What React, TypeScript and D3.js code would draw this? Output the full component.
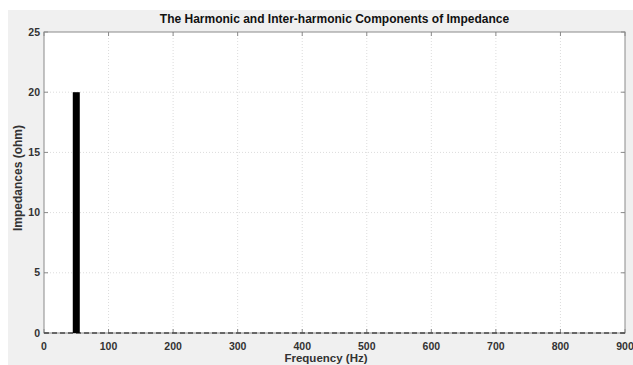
import React from "react";
import * as d3 from "d3";

// Harmonic / inter-harmonic impedance components
const frequencies = [50];
const impedances = [20];
const xTicks = [0, 100, 200, 300, 400, 500, 600, 700, 800, 900];
const yTicks = [0, 5, 10, 15, 20, 25];

const W = 633;
const H = 365;
const margin = { left: 44, right: 8, top: 32, bottom: 32 };

export default function App() {
  const x = d3.scaleLinear().domain([0, 900]).range([margin.left, W - margin.right]);
  const y = d3.scaleLinear().domain([0, 25]).range([H - margin.bottom, margin.top]);
  const x0 = x.range()[0];
  const x1 = x.range()[1];
  const y0 = y.range()[0];
  const y1 = y.range()[1];
  const font = "Arial, 'Liberation Sans', sans-serif";

  return (
    <svg
      width={W}
      height={H}
      style={{ position: "absolute", left: 0, top: 0, display: "block" }}
    >
      <rect x={0} y={0} width={W} height={H} fill="#ffffff" />
      <rect x={8} y={10} width={W - 8} height={H - 10} fill="#f0f0f0" />
      <rect x={x0} y={y1} width={x1 - x0} height={y0 - y1} fill="#ffffff" />

      {/* grid */}
      {xTicks.slice(1, -1).map((t) => (
        <line
          key={"gx" + t}
          x1={x(t)}
          x2={x(t)}
          y1={y1}
          y2={y0}
          stroke="#dcdcdc"
          strokeWidth={1}
          strokeDasharray="1 2"
        />
      ))}
      {yTicks.slice(1, -1).map((t) => (
        <line
          key={"gy" + t}
          x1={x0}
          x2={x1}
          y1={y(t)}
          y2={y(t)}
          stroke="#dcdcdc"
          strokeWidth={1}
          strokeDasharray="1 2"
        />
      ))}

      {/* axes box */}
      <rect
        x={x0}
        y={y1}
        width={x1 - x0}
        height={y0 - y1}
        fill="none"
        stroke="#8a8a8a"
        strokeWidth={1}
      />

      {/* ticks */}
      {xTicks.map((t) => (
        <g key={"tx" + t}>
          <line x1={x(t)} x2={x(t)} y1={y0} y2={y0 - 4} stroke="#8a8a8a" />
          <line x1={x(t)} x2={x(t)} y1={y1} y2={y1 + 4} stroke="#8a8a8a" />
          <text
            x={x(t)}
            y={y0 + 17}
            textAnchor="middle"
            fontFamily={font}
            fontWeight="bold"
            fontSize={10.5}
            fill="#333"
          >
            {t}
          </text>
        </g>
      ))}
      {yTicks.map((t) => (
        <g key={"ty" + t}>
          <line x1={x0} x2={x0 + 4} y1={y(t)} y2={y(t)} stroke="#8a8a8a" />
          <line x1={x1} x2={x1 - 4} y1={y(t)} y2={y(t)} stroke="#8a8a8a" />
          <text
            x={x0 - 4}
            y={y(t) + 3.5}
            textAnchor="end"
            fontFamily={font}
            fontWeight="bold"
            fontSize={10.5}
            fill="#333"
          >
            {t}
          </text>
        </g>
      ))}

      {/* stem baseline */}
      <line
        x1={x0}
        x2={x1}
        y1={y(0)}
        y2={y(0)}
        stroke="#4a4a4a"
        strokeWidth={1.4}
        strokeDasharray="5 3"
      />

      {/* stems */}
      {frequencies.map((f, i) => (
        <rect
          key={"s" + i}
          x={x(f) - 3.5}
          y={y(impedances[i])}
          width={7}
          height={y(0) - y(impedances[i])}
          fill="#000"
        />
      ))}

      {/* labels */}
      <text
        x={(x0 + x1) / 2}
        y={23}
        textAnchor="middle"
        fontFamily={font}
        fontWeight="bold"
        fontSize={12}
        fill="#111"
      >
        The Harmonic and Inter-harmonic Components of Impedance
      </text>
      <text
        x={326}
        y={362}
        textAnchor="middle"
        fontFamily={font}
        fontWeight="bold"
        fontSize={11.5}
        fill="#333"
      >
        Frequency (Hz)
      </text>
      <text
        transform={`translate(22, 178) rotate(-90)`}
        textAnchor="middle"
        fontFamily={font}
        fontWeight="bold"
        fontSize={12}
        fill="#333"
      >
        Impedances (ohm)
      </text>
    </svg>
  );
}
